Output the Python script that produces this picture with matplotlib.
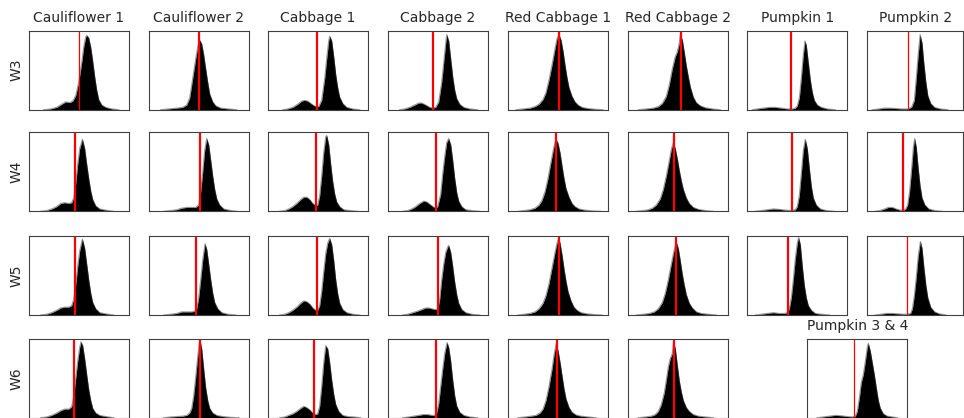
import matplotlib
matplotlib.use("Agg")
import matplotlib.pyplot as plt

# ---------------- data ----------------
samples = ["Cauliflower 1", "Cauliflower 2", "Cabbage 1", "Cabbage 2",
           "Red Cabbage 1", "Red Cabbage 2", "Pumpkin 1", "Pumpkin 2"]
weeks = ["W3", "W4", "W5", "W6"]
merged_title = "Pumpkin 3 & 4"

# red threshold position per panel (x in 0-100 units)
thr_w3 = [50.3, 50.0, 49.3, 45.3, 50.7, 52.7, 43.3, 42.0]
thr_w4 = [46.3, 51.3, 48.0, 48.0, 48.0, 45.7, 45.0, 37.7]
thr_w5 = [46.3, 47.7, 49.3, 50.3, 50.7, 48.0, 40.3, 41.7]
thr_w6 = [45.0, 51.3, 46.7, 48.0, 49.0, 46.0]
thr_merged = 46.7

# histogram outlines (x, relative count)
# --- W3 ---
cau1_w3 = [(15,0),(22,1),(28,3),(33,7),(37,10),(41,9),(44,11),(47,18),(50,35),(53,60),(55,80),(57,93),(58,95),(60,92),(62,80),(64,62),(66,42),(68,25),(70,13),(73,6),(77,3),(83,1),(90,0)]
cau2_w3 = [(12,0),(20,1),(28,2),(34,3),(38,6),(41,15),(44,40),(47,65),(49,80),(51,89),(53,84),(55,70),(57,52),(59,35),(61,20),(64,10),(67,5),(72,2),(80,1),(88,0)]
cab1_w3 = [(15,0),(20,1),(25,3),(30,7),(34,11),(37,12),(40,11),(44,7),(48,4),(51,4),(54,12),(57,40),(59,65),(61,88),(62,94),(64,88),(66,68),(68,45),(70,28),(72,16),(75,8),(79,3),(85,1),(92,0)]
cab2_w3 = [(12,0),(17,1),(22,3),(27,6),(31,8.5),(34,8.5),(38,6),(42,3),(45,2),(48,3),(51,10),(54,35),(56,60),(58,85),(59,96),(61,88),(63,65),(65,42),(67,25),(69,14),(72,7),(76,3),(82,1),(90,0)]
red1_w3 = [(8,0),(15,1),(22,2),(27,4),(31,7),(35,13),(38,22),(41,38),(44,57),(47,78),(49,91),(51,96),(53,89),(55,75),(57,57),(59,41),(61,28),(64,17),(67,10),(70,6),(74,3),(80,1.5),(88,0.5),(95,0)]
red2_w3 = [(10,0),(18,1),(25,2),(30,4),(34,8),(38,17),(41,32),(44,52),(47,68),(49,74),(51,85),(52,96),(54,89),(56,73),(58,56),(60,42),(62,29),(65,16),(68,9),(72,5),(77,2.5),(84,1),(92,0)]
pum1_w3 = [(5,0),(10,1),(16,2),(22,3),(28,3),(34,2),(40,1),(45,1),(48,2),(50,5),(52,15),(54,40),(56,70),(57.7,88),(59,82),(61,60),(63,38),(65,22),(67,12),(70,6),(74,3),(80,1),(88,0)]
pum2_w3 = [(5,0),(12,1),(18,2),(24,2),(30,1.5),(36,1),(42,1),(46,3),(49,12),(51,40),(53,70),(55,96),(57,85),(59,58),(61,35),(63,18),(66,8),(70,3),(76,1),(84,0)]
# --- W4 ---
cau1_w4 = [(12,0),(18,1),(23,3),(28,6),(32,10),(36,11),(40,10),(43,11),(45,17),(47,35),(49,60),(51,80),(53.7,92),(56,80),(58,60),(60,42),(62,26),(64,15),(67,7),(71,3),(77,1.5),(85,0)]
cau2_w4 = [(15,0),(22,1),(28,2),(33,4),(38,5),(43,5),(47,5),(50,8),(52,25),(54,50),(56,78),(58,93),(60,85),(62,65),(64,45),(66,28),(68,16),(71,8),(75,3),(80,1.5),(88,0)]
cab1_w4 = [(12,0),(17,1),(21,3),(25,6),(29,10),(33,15),(36,18),(39,18),(42,15),(45,10),(48,7),(50,8),(52,20),(54,45),(56,75),(58,95),(59,97),(61,85),(63,60),(65,38),(67,22),(69,12),(72,6),(76,2),(82,1),(90,0)]
cab2_w4 = [(15,0),(20,1),(24,3),(28,6),(32,10),(36,13),(39,12),(42,9),(45,6),(48,4),(50,6),(53,22),(55,48),(57,70),(59,88),(61,93),(63,85),(65,65),(67,42),(69,24),(71,13),(74,6),(78,2),(84,1),(92,0)]
red1_w4 = [(10,0),(16,1),(22,2),(27,4),(31,8),(34,14),(37,25),(40,42),(43,63),(46,83),(48,92),(50,87),(52,75),(54,58),(56,42),(58,29),(61,18),(64,10),(67,6),(71,3),(77,1.5),(85,0.5),(93,0)]
red2_w4 = [(8,0),(15,1),(20,2),(24,4),(28,8),(32,16),(35,28),(38,45),(41,65),(43,79),(45,88),(47,80),(49,67),(51,52),(53,39),(55,28),(58,17),(61,10),(65,5),(70,2.5),(77,1),(85,0)]
pum1_w4 = [(8,0),(14,1),(20,2),(26,3),(32,2.5),(38,1.5),(44,1),(48,2),(50,6),(52,20),(54,48),(56,78),(58,92),(60,80),(62,55),(64,32),(66,17),(69,8),(73,3),(79,1),(87,0)]
pum2_w4 = [(8,0),(13,1),(18,3),(22,5),(26,5),(30,3),(34,1.5),(38,1.5),(40,3),(42,8),(44,25),(46,52),(48,82),(49.3,93),(51,82),(53,55),(55,32),(57,17),(60,8),(64,3),(70,1),(78,0)]
# --- W5 ---
cau1_w5 = [(12,0),(18,1),(23,3),(28,6),(32,9),(36,10),(40,10),(43,12),(45,20),(47,38),(49,62),(51,82),(53.7,97),(56,85),(58,65),(60,45),(62,28),(64,16),(67,8),(71,3),(77,1.5),(85,0)]
cau2_w5 = [(15,0),(22,1),(28,2),(33,4),(38,4),(43,4),(46,5),(48,8),(50,22),(52,45),(54,70),(56.3,91),(58,84),(60,65),(62,45),(64,28),(66,16),(69,8),(73,3),(79,1),(87,0)]
cab1_w5 = [(12,0),(17,1),(21,3),(25,6),(29,10),(33,15),(36,18),(39,17),(42,14),(45,9),(48,6),(50,6),(52,12),(54,30),(56,55),(58,78),(60,92),(62,98),(64,90),(66,70),(68,45),(70,27),(72,15),(75,7),(79,3),(85,1),(92,0)]
cab2_w5 = [(15,0),(20,1),(25,3),(30,5),(34,7),(38,9),(41,9),(44,8),(47,7),(50,7),(52,20),(54,45),(56,65),(58,80),(60,87),(61,89),(63,80),(65,62),(67,42),(69,26),(71,15),(74,7),(78,3),(84,1),(92,0)]
red1_w5 = [(10,0),(16,1),(22,2),(27,4),(31,8),(35,15),(38,25),(41,40),(44,60),(47,80),(49,92),(50.7,98),(52,92),(54,77),(56,59),(58,43),(60,30),(63,18),(66,10),(69,6),(73,3),(79,1.5),(87,0.5),(94,0)]
red2_w5 = [(8,0),(15,1),(21,2),(26,4),(30,8),(34,16),(37,28),(40,45),(43,65),(46,84),(48,93),(50,85),(52,69),(54,52),(56,38),(58,26),(61,15),(64,9),(68,4),(73,2),(80,1),(88,0)]
pum1_w5 = [(8,0),(14,1),(20,2),(26,3),(32,2),(37,2),(40,3),(42,8),(44,22),(46,45),(48,72),(50,92),(51.3,99),(53,90),(55,62),(57,38),(59,22),(61,12),(64,6),(68,2),(74,1),(82,0)]
pum2_w5 = [(8,0),(14,1),(20,2),(26,2),(32,1.5),(38,1),(42,1),(45,2),(47,8),(49,25),(51,48),(53,75),(55.3,94),(57,85),(59,60),(61,38),(63,22),(66,10),(70,4),(75,1.5),(82,0)]
# --- W6 ---
cau1_w6 = [(12,0),(18,1),(23,3),(28,6),(32,9),(36,11),(40,11),(43,14),(45,28),(47,50),(49,72),(51,90),(52.3,97),(54,92),(56,75),(58,55),(60,36),(62,22),(64,12),(67,6),(71,3),(77,1.5),(85,0)]
cau2_w6 = [(15,0),(22,1),(28,1.5),(34,2),(38,3),(41,6),(43,12),(45,28),(47,52),(49,78),(50.5,95),(51.3,99),(53,88),(55,62),(57,38),(59,22),(61,12),(64,6),(68,3),(74,1.5),(82,0.5),(90,0)]
cab1_w6 = [(12,0),(17,1),(21,3),(25,5),(29,8),(33,12),(36,14.5),(39,13),(42,10),(45,6),(48,4),(50,5),(52,15),(54,40),(56,70),(58,92),(60,88),(62,70),(64,48),(66,30),(68,17),(71,8),(75,3),(80,1.5),(86,1),(93,0)]
cab2_w6 = [(15,0),(21,1),(26,2),(31,3),(35,4),(40,4),(44,3),(47,3),(49,6),(51,18),(53,40),(55,62),(57,82),(59.3,96),(61,90),(63,72),(65,48),(67,28),(69,15),(72,7),(76,3),(82,1),(90,0)]
red1_w6 = [(10,0),(17,1),(23,2),(28,3),(32,6),(35,11),(38,22),(41,40),(44,62),(46,80),(48,94),(50,86),(52,71),(54,54),(56,37),(58,24),(61,13),(64,7),(68,3.5),(73,2),(80,1),(88,0)]
red2_w6 = [(10,0),(17,1),(23,2),(27,4),(30,8),(33,17),(36,32),(38,48),(40,65),(42,76),(44,82),(45.3,97),(47,88),(49,67),(51,47),(53,33),(55,22),(58,13),(61,8),(65,4),(70,2),(77,1),(85,0)]
pum34_w6 = [(10,0),(16,1),(22,2),(28,3),(34,2.5),(40,1.5),(45,1),(48,2),(50,8),(52,25),(54,45),(56,55),(58,72),(60,90),(61,95),(63,85),(65,70),(67,55),(69,38),(71,22),(73,12),(76,5),(80,2),(85,1),(90,0)]

# ---------------- assemble ----------------
grid = [
    [cau1_w3, cau2_w3, cab1_w3, cab2_w3, red1_w3, red2_w3, pum1_w3, pum2_w3],
    [cau1_w4, cau2_w4, cab1_w4, cab2_w4, red1_w4, red2_w4, pum1_w4, pum2_w4],
    [cau1_w5, cau2_w5, cab1_w5, cab2_w5, red1_w5, red2_w5, pum1_w5, pum2_w5],
    [cau1_w6, cau2_w6, cab1_w6, cab2_w6, red1_w6, red2_w6],
]
thresholds = [thr_w3, thr_w4, thr_w5, thr_w6]
thin_lines = {(0, 0), (0, 7), (2, 7), (3, 7)}

W, H = 964, 418
fig = plt.figure(figsize=(W / 100, H / 100), dpi=100)

col_left = [28.7, 148.7, 267.7, 387.7, 508.0, 628.3, 747.3, 867.3]
col_width = [100, 100, 100, 100, 100, 100, 100, 96]
row_top = [30.7, 132.3, 236.0, 338.7]
panel_h = 79


def make_ax(left, top, width, height):
    return fig.add_axes([left / W, 1 - (top + height) / H, width / W, height / H])


def draw(ax, outline, thr, thin):
    xs = [p[0] for p in outline]
    ys = [p[1] for p in outline]
    ax.fill_between(xs, ys, 0, color="black", lw=0)
    ax.plot(xs, ys, color="0.2", lw=0.8, alpha=0.5)
    ax.axvline(thr, color="red", lw=0.9 if thin else 1.6)
    ax.set_xlim(0, 100)
    ax.set_ylim(0, 101)
    ax.set_xticks([])
    ax.set_yticks([])
    for s in ax.spines.values():
        s.set_color("0.25")


for r, row in enumerate(grid):
    for c, outline in enumerate(row):
        ax = make_ax(col_left[c], row_top[r], col_width[c], panel_h)
        draw(ax, outline, thresholds[r][c], (r, c) in thin_lines)
        if r == 0:
            ax.set_title(samples[c], fontsize=10, color="0.15")
        if c == 0:
            ax.set_ylabel(weeks[r], fontsize=10, color="0.15")

ax = make_ax(807.3, row_top[3], 100, panel_h)
draw(ax, pum34_w6, thr_merged, True)
ax.set_title(merged_title, fontsize=10, color="0.15")

fig.savefig("out.png", dpi=100)
